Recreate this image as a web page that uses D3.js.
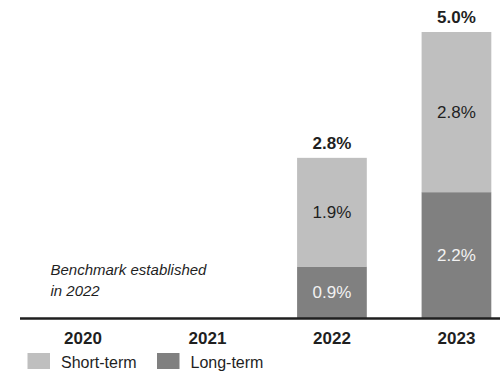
<!DOCTYPE html>
<html>
<head>
<meta charset="utf-8">
<script src="https://cdn.jsdelivr.net/npm/d3@7"></script>
<style>
  html, body { margin: 0; padding: 0; background: #fff; }
  svg { display: block; font-family: "Liberation Sans", Arial, sans-serif; }
</style>
</head>
<body>
<svg id="chart" width="500" height="374"></svg>
<script>
// Years shown on the axis; the benchmark only exists from 2022 on
const years = ["2020", "2021", "2022", "2023"];
const shortTerm = [null, null, 1.9, 2.8];
const longTerm = [null, null, 0.9, 2.2];
const totals = [null, null, 2.8, 5.0];
const seriesNames = ["Short-term", "Long-term"];
const noteLines = ["Benchmark established", "in 2022"];

const colors = { "Long-term": "#808080", "Short-term": "#bfbfbf" };
const inkDark = "#1f1f1f";

const svg = d3.select("#chart");

const x = d3.scaleBand()
  .domain(years)
  .range([20.7, 518.7])
  .paddingInner(0.44)
  .paddingOuter(0.22);

const y = d3.scaleLinear().domain([0, 5]).range([318, 32]);

// Rows for stacking: long-term sits at the bottom, short-term on top
const rows = years.map((yr, i) => ({
  year: yr,
  "Long-term": longTerm[i] || 0,
  "Short-term": shortTerm[i] || 0,
  total: totals[i]
}));

const stacked = d3.stack().keys(["Long-term", "Short-term"])(rows);

const layers = svg.append("g").selectAll("g")
  .data(stacked)
  .join("g")
  .attr("fill", d => colors[d.key]);

layers.selectAll("rect")
  .data(d => d.filter(s => s.data.total != null))
  .join("rect")
  .attr("x", d => x(d.data.year))
  .attr("width", x.bandwidth())
  .attr("y", d => y(d[1]))
  .attr("height", d => y(d[0]) - y(d[1]));

// Segment value labels
stacked.forEach(layer => {
  svg.append("g").selectAll("text")
    .data(layer.filter(s => s.data.total != null))
    .join("text")
    .attr("x", d => x(d.data.year) + x.bandwidth() / 2)
    .attr("y", d => (y(d[0]) + y(d[1])) / 2)
    .attr("dy", "0.36em")
    .attr("text-anchor", "middle")
    .attr("font-size", 17)
    .attr("fill", layer.key === "Long-term" ? "#f2f2f2" : inkDark)
    .text(d => (d[1] - d[0]).toFixed(1) + "%");
});

// Totals above each bar
svg.append("g").selectAll("text")
  .data(rows.filter(r => r.total != null))
  .join("text")
  .attr("x", d => x(d.year) + x.bandwidth() / 2)
  .attr("y", d => y(d.total) - 9)
  .attr("text-anchor", "middle")
  .attr("font-size", 17)
  .attr("font-weight", "bold")
  .attr("fill", inkDark)
  .text(d => d.total.toFixed(1) + "%");

// X axis
const xAxis = svg.append("g")
  .attr("transform", "translate(0,318.5)")
  .call(d3.axisBottom(x).tickSize(0).tickPadding(13));
xAxis.select(".domain").remove();
xAxis.selectAll("text")
  .attr("font-size", 17)
  .attr("font-weight", "bold")
  .attr("font-family", "Liberation Sans, Arial, sans-serif")
  .attr("fill", inkDark);
xAxis.append("line")
  .attr("x1", 20).attr("x2", 500)
  .attr("stroke", inkDark)
  .attr("stroke-width", 2.5);

// Note for the years without data
svg.append("text")
  .attr("x", 50.5)
  .attr("y", 275)
  .attr("font-size", 15)
  .attr("font-style", "italic")
  .attr("fill", inkDark)
  .selectAll("tspan")
  .data(noteLines)
  .join("tspan")
  .attr("x", 50.5)
  .attr("dy", (d, i) => i === 0 ? 0 : 20.5)
  .text(d => d);

// Legend
const legendX = [27.5, 157];
const legend = svg.append("g").selectAll("g")
  .data(seriesNames)
  .join("g")
  .attr("transform", (d, i) => `translate(${legendX[i]},353)`);
legend.append("rect")
  .attr("width", 22.5)
  .attr("height", 16)
  .attr("fill", d => colors[d]);
legend.append("text")
  .attr("x", 33.5)
  .attr("y", 15)
  .attr("font-size", 16)
  .attr("fill", inkDark)
  .text(d => d);
</script>
</body>
</html>
